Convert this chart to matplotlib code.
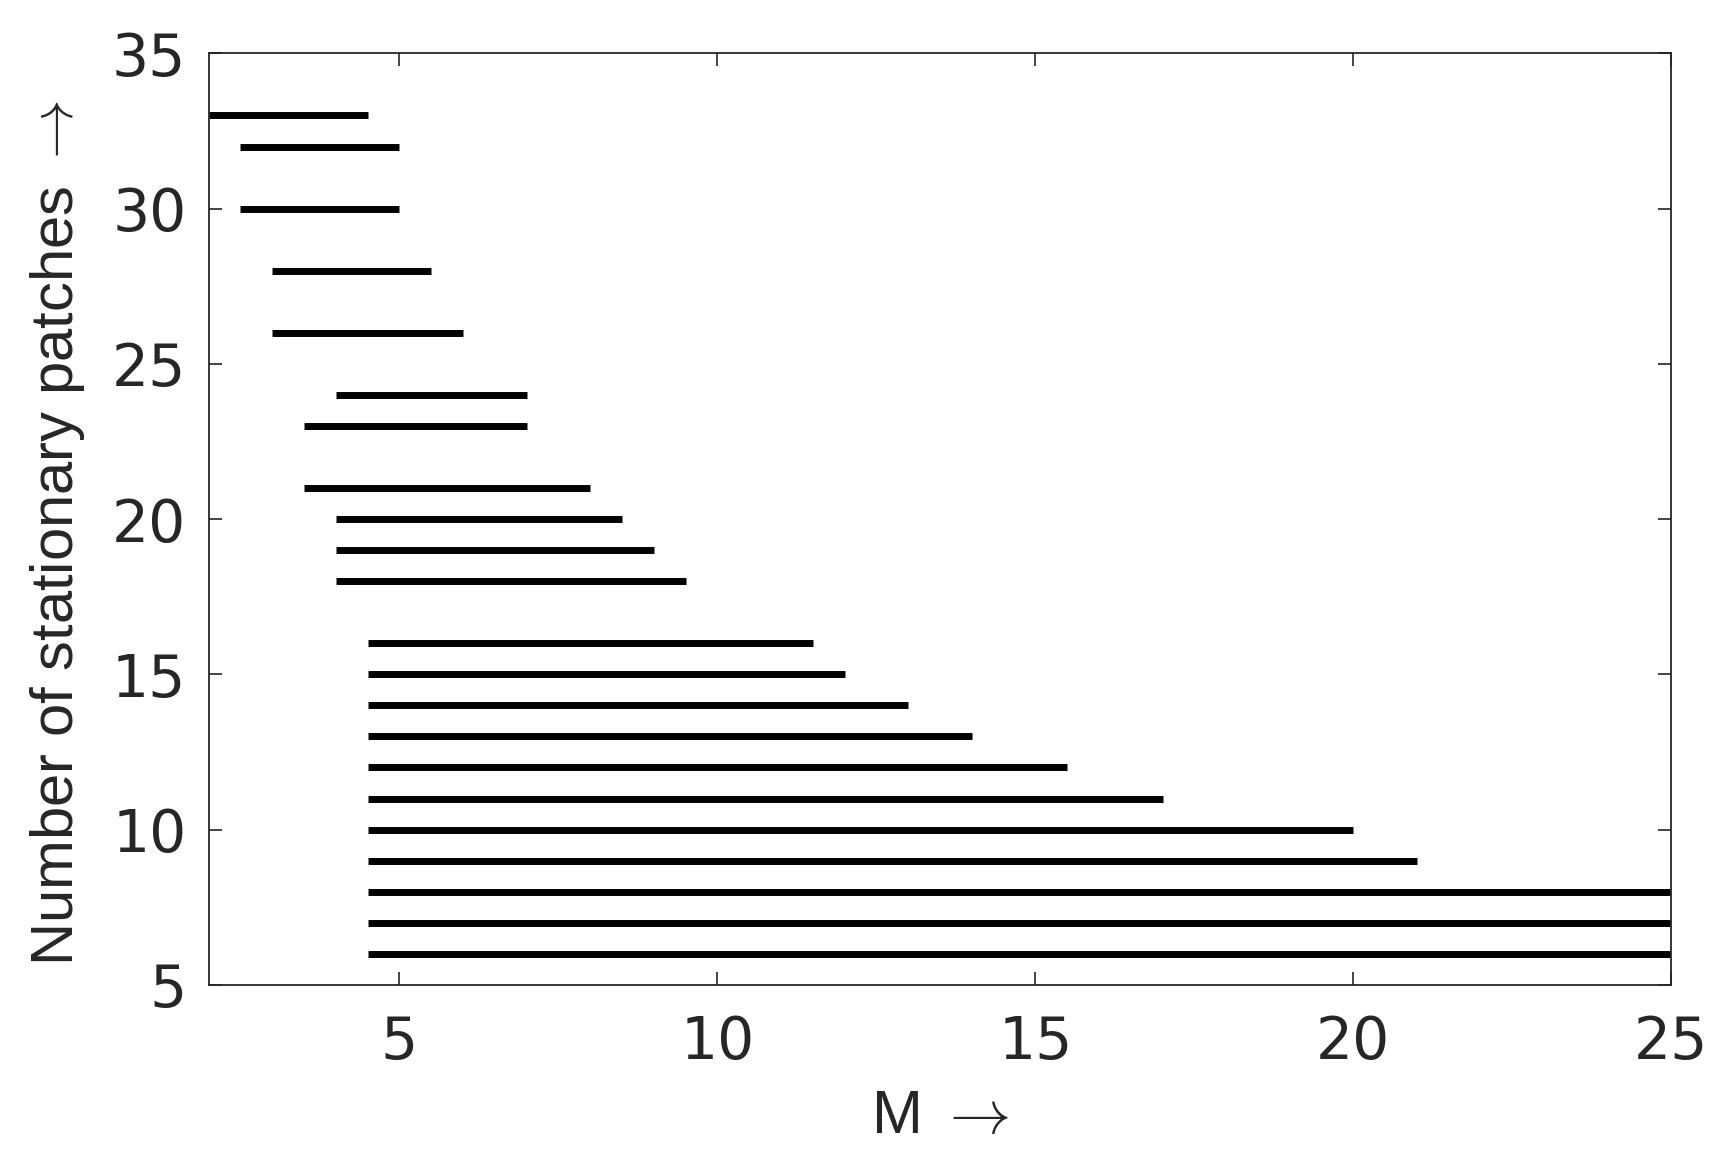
import matplotlib.pyplot as plt

# Number of stationary patches and the M-interval where each exists
patches = [33, 32, 30, 28, 26, 24, 23, 21, 20, 19, 18,
           16, 15, 14, 13, 12, 11, 10, 9, 8, 7, 6]
m_start = [2.0, 2.5, 2.5, 3.0, 3.0, 4.0, 3.5, 3.5, 4.0, 4.0, 4.0,
           4.5, 4.5, 4.5, 4.5, 4.5, 4.5, 4.5, 4.5, 4.5, 4.5, 4.5]
m_end = [4.5, 5.0, 5.0, 5.5, 6.0, 7.0, 7.0, 8.0, 8.5, 9.0, 9.5,
         11.5, 12.0, 13.0, 14.0, 15.5, 17.0, 20.0, 21.0, 25.0, 25.0, 25.0]

xticks = [5, 10, 15, 20, 25]
yticks = [5, 10, 15, 20, 25, 30, 35]

plt.rcParams['font.family'] = ['Liberation Sans', 'DejaVu Sans']
plt.rcParams['mathtext.fontset'] = 'cm'
txt = '#262626'

fig = plt.figure(figsize=(17.31, 11.60), dpi=100)
ax = fig.add_axes([0.1205, 0.151, 0.845, 0.803])

ax.hlines(patches, m_start, m_end, colors='black', linewidth=5)

ax.set_xlim(2, 25)
ax.set_ylim(5, 35)
ax.set_xticks(xticks)
ax.set_yticks(yticks)
ax.tick_params(direction='in', length=9.5, width=1.2, top=True, right=True,
               labelsize=42, colors=txt)
ax.tick_params(axis='x', pad=21)
ax.tick_params(axis='y', pad=16)
for lab in ax.get_xticklabels() + ax.get_yticklabels():
    lab.set_family('DejaVu Sans')
for s in ax.spines.values():
    s.set_linewidth(1.3)
    s.set_color(txt)

ax.set_xlabel('M $\\rightarrow$', fontsize=44, color=txt)
ax.set_ylabel('Number of stationary patches $\\rightarrow$', fontsize=43,
              color=txt)
ax.xaxis.set_label_coords(0.5, -0.112)
ax.yaxis.set_label_coords(-0.083, 0.485)

plt.savefig('out.png', dpi=100)
